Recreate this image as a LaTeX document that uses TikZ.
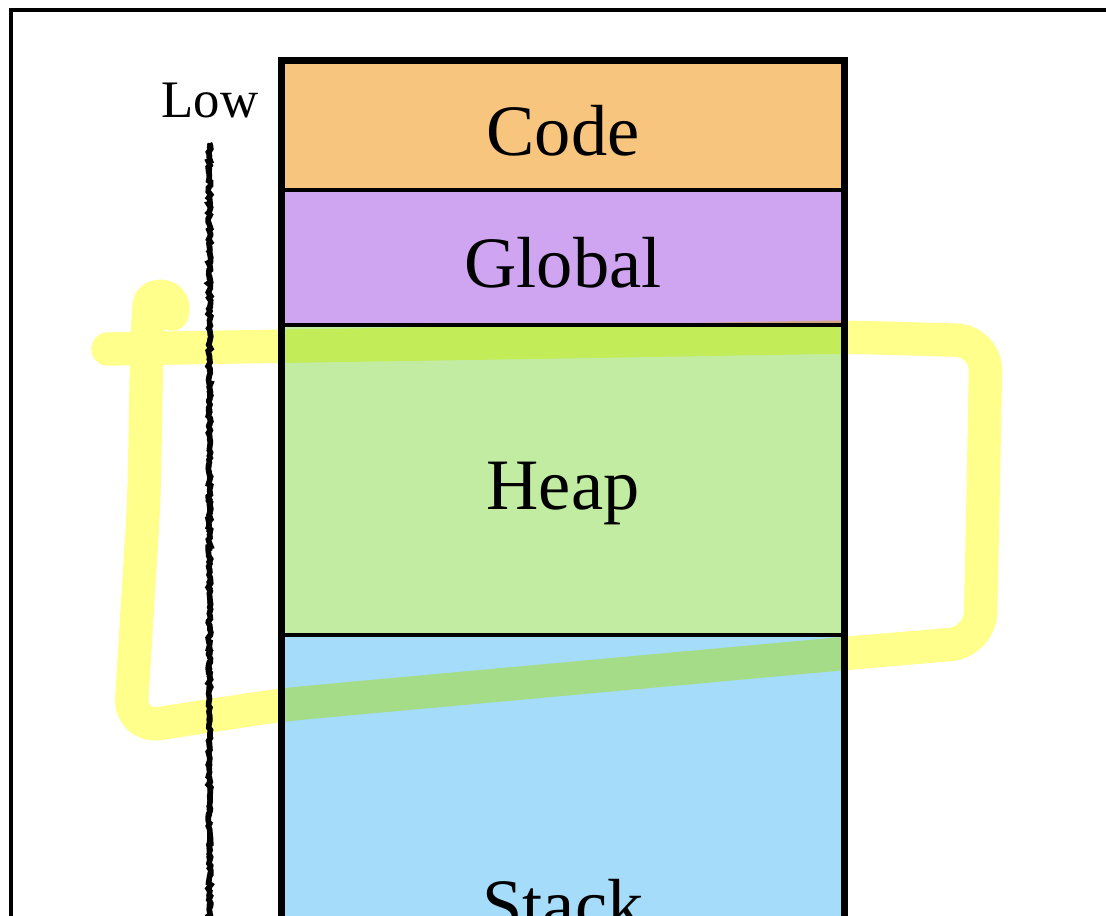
\documentclass[tikz,border=0pt]{standalone}
\usepackage{fontspec}
\setmainfont{Liberation Serif}
\usetikzlibrary{positioning,decorations.pathmorphing}

\definecolor{codecol}{RGB}{247,197,125}
\definecolor{globalcol}{RGB}{207,165,241}
\definecolor{heapcol}{RGB}{194,236,161}
\definecolor{stackcol}{RGB}{165,220,249}
\definecolor{marker}{RGB}{255,255,140}

\begin{document}
\begin{tikzpicture}[
        node distance=0pt,
        seg/.style={draw, line width=1pt, outer sep=0pt, inner sep=0pt,
            minimum width=5.63cm, text height=17pt, text depth=0pt,
            font=\fontsize{20.6}{24}\selectfont},
        chalk/.style={line width=1.6pt, decorate,
            decoration={random steps, segment length=0.8pt, amplitude=0.4pt}},
        hilite/.style={draw=marker, line width=9.5pt, line cap=round, line join=round}
    ]
    \clip (0,0) rectangle (11.06,-9.15);
    \fill[white] (0,0) rectangle (11.06,-9.15);
    \draw[line width=0.9pt] (0.11,-0.10) rectangle (12,-10);

    % memory segments
    \node[seg, fill=codecol, minimum height=1.295cm, anchor=north west] (code) at (2.815,-0.605) {Code};
    \node[seg, fill=globalcol, minimum height=1.35cm, below=of code] (global) {Global};
    \node[seg, fill=heapcol, minimum height=3.10cm, below=of global] (heap) {Heap};
    \node[seg, fill=stackcol, minimum height=5.30cm, below=of heap] (stack) {Stack};
    \draw[line width=2pt] (code.north west) rectangle (stack.south east);

    % address axis
    \node[anchor=base, font=\fontsize{15}{18}\selectfont] (low) at (2.10,-1.17) {Low};
    \coordinate (lowtop) at (2.095,-1.43);
    \coordinate (lowbot) at (2.095,-9.40);
    \draw[chalk] (lowtop) -- (lowbot);
    \draw[chalk, line width=1pt] (lowtop) -- (lowbot);

    % marker stroke round the heap
    \begin{scope}[blend mode=multiply]
        \draw[hilite, rounded corners=0.3cm] (1.08,-3.49) -- (5.5,-3.42) -- (8.45,-3.37)
            -- (9.86,-3.41) -- (9.83,-5.0) -- (9.80,-6.42) -- (8.5,-6.53) -- (2.8,-7.05)
            -- (1.30,-7.28) -- (1.44,-5.0) -- (1.47,-3.35)
            .. controls (1.50,-2.92) and (1.78,-2.92) .. (1.72,-3.14);
    \end{scope}
\end{tikzpicture}
\end{document}
